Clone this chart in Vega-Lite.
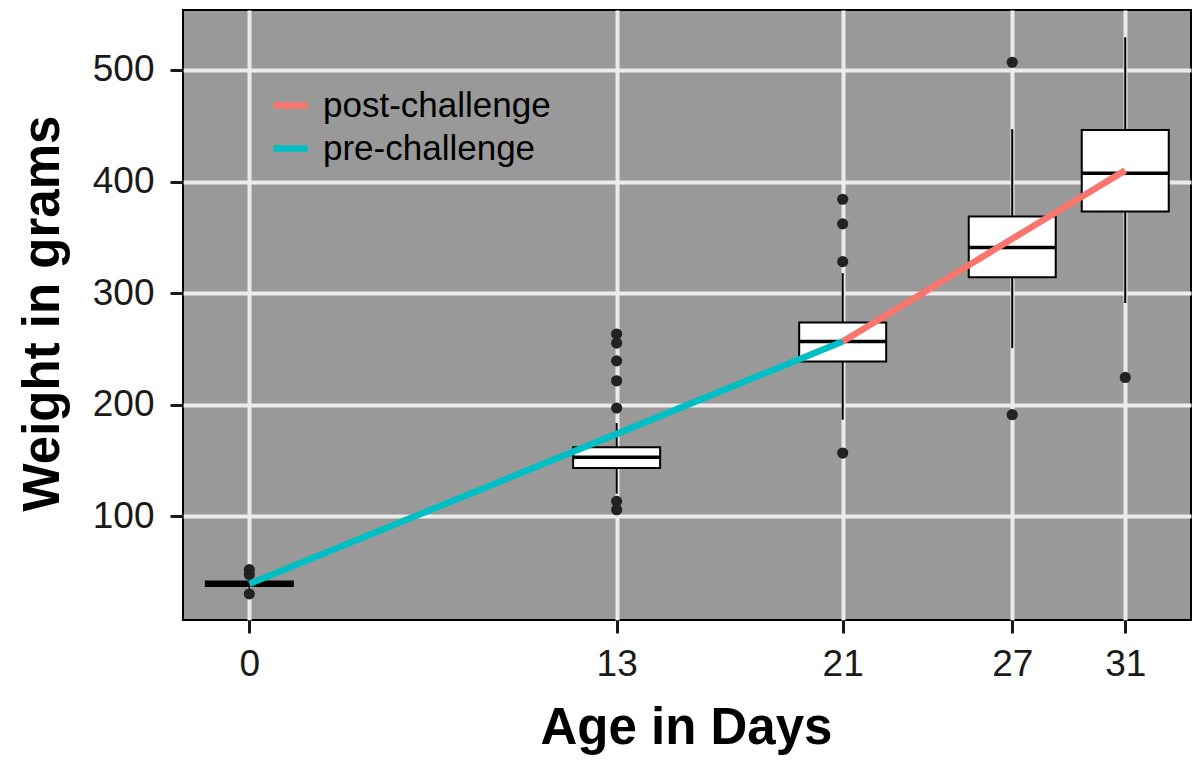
{
  "$schema": "https://vega.github.io/schema/vega-lite/v6.json",
  "autosize": "none",
  "padding": {"left": 183, "top": 10, "right": 9, "bottom": 145},
  "width": 1008,
  "height": 610,
  "background": "white",
  "config": {
    "view": {"fill": "#999999", "stroke": "black", "strokeWidth": 2},
    "font": "Liberation Sans",
    "axis": {
      "domain": false,
      "grid": true,
      "gridColor": "#ebebeb",
      "gridWidth": 4,
      "tickColor": "#1a1a1a",
      "tickWidth": 3,
      "tickSize": 13,
      "labelFont": "Liberation Sans",
      "labelFontSize": 37,
      "labelColor": "#1a1a1a",
      "titleFont": "Liberation Sans",
      "titleFontSize": 51,
      "titleFontWeight": "bold",
      "titleColor": "black"
    },
    "legend": {
      "labelFont": "Liberation Sans",
      "labelFontSize": 35,
      "labelColor": "black",
      "labelLimit": 500
    }
  },
  "datasets": {
    "boxes": [
      {"day": 0, "lower": 35, "q1": 37.2, "median": 39.2, "q3": 41.4, "upper": 43},
      {"day": 13, "lower": 120, "q1": 143.2, "median": 152.7, "q3": 161.6, "upper": 183.4},
      {"day": 21, "lower": 186.4, "q1": 238.6, "median": 256.6, "q3": 273.6, "upper": 317.8},
      {"day": 27, "lower": 250.6, "q1": 314.2, "median": 340.8, "q3": 368.6, "upper": 446.9},
      {"day": 31, "lower": 291, "q1": 373, "median": 407.4, "q3": 446.2, "upper": 529.3}
    ],
    "outliers": [
      {"day": 0, "weight": 52},
      {"day": 0, "weight": 47.6},
      {"day": 0, "weight": 30.2},
      {"day": 13, "weight": 263.2},
      {"day": 13, "weight": 255.1},
      {"day": 13, "weight": 239.2},
      {"day": 13, "weight": 221.3},
      {"day": 13, "weight": 196.9},
      {"day": 13, "weight": 113.2},
      {"day": 13, "weight": 105.7},
      {"day": 21, "weight": 384.1},
      {"day": 21, "weight": 362},
      {"day": 21, "weight": 328.2},
      {"day": 21, "weight": 156.5},
      {"day": 27, "weight": 506.9},
      {"day": 27, "weight": 190.9},
      {"day": 31, "weight": 224.3}
    ],
    "trend": [
      {"day": 0, "weight": 39.2, "phase": "pre-challenge"},
      {"day": 13, "weight": 173.7, "phase": "pre-challenge"},
      {"day": 21, "weight": 256.6, "phase": "pre-challenge"},
      {"day": 21, "weight": 256.6, "phase": "post-challenge"},
      {"day": 27, "weight": 348.6, "phase": "post-challenge"},
      {"day": 31, "weight": 410, "phase": "post-challenge"}
    ]
  },
  "encoding": {
    "x": {
      "field": "day",
      "type": "quantitative",
      "scale": {"domain": [-2.17, 33.15], "nice": false, "zero": false},
      "axis": {
        "values": [0, 13, 21, 27, 31],
        "title": "Age in Days",
        "labelBaseline": "alphabetic",
        "labelPadding": 42,
        "titleX": 503,
        "titleY": 123,
        "titleBaseline": "alphabetic",
        "titleAlign": "center"
      }
    }
  },
  "layer": [
    {
      "data": {"name": "boxes"},
      "mark": {"type": "rule", "color": "black", "strokeWidth": 2},
      "encoding": {
        "y": {
          "field": "lower",
          "type": "quantitative",
          "scale": {"domain": [6.8, 553.8], "nice": false, "zero": false},
          "axis": {
            "values": [100, 200, 300, 400, 500],
            "title": "Weight in grams",
            "labelPadding": 16,
            "titleX": -125,
            "titleY": 303,
            "titleAngle": -90,
            "titleBaseline": "alphabetic",
            "titleAlign": "center"
          }
        },
        "y2": {"field": "upper"}
      }
    },
    {
      "data": {"name": "boxes"},
      "mark": {"type": "bar", "width": 87, "fill": "white", "stroke": "black", "strokeWidth": 2},
      "encoding": {
        "y": {"field": "q1", "type": "quantitative"},
        "y2": {"field": "q3"}
      }
    },
    {
      "data": {"name": "boxes"},
      "mark": {"type": "tick", "orient": "horizontal", "size": 87, "thickness": 3.5, "color": "black", "opacity": 1},
      "encoding": {
        "y": {"field": "median", "type": "quantitative"}
      }
    },
    {
      "data": {"name": "outliers"},
      "mark": {"type": "circle", "size": 125, "color": "#222222", "opacity": 1},
      "encoding": {
        "y": {"field": "weight", "type": "quantitative"}
      }
    },
    {
      "data": {"name": "trend"},
      "mark": {"type": "line", "strokeWidth": 6.5, "strokeCap": "butt"},
      "encoding": {
        "y": {"field": "weight", "type": "quantitative"},
        "color": {
          "field": "phase",
          "type": "nominal",
          "scale": {"domain": ["post-challenge", "pre-challenge"], "range": ["#F8766D", "#00BFC4"]},
          "legend": {
            "title": null,
            "orient": "none",
            "legendX": 87,
            "legendY": 75,
            "padding": 0,
            "symbolType": "stroke",
            "symbolSize": 1156,
            "symbolStrokeWidth": 6.5,
            "labelOffset": 12,
            "rowPadding": 4
          }
        }
      }
    }
  ]
}
